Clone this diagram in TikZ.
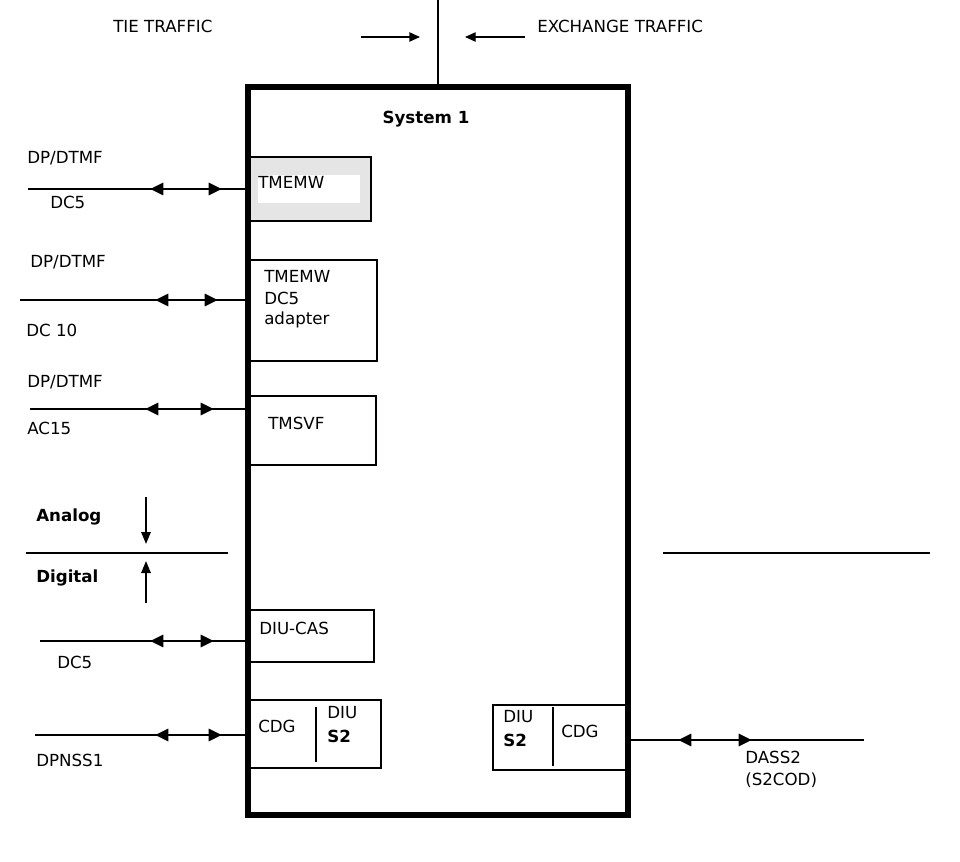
\documentclass[tikz,border=0pt]{standalone}
\usepackage{fontspec}
\setmainfont{DejaVu Sans}
\usetikzlibrary{arrows.meta}

\tikzset{
  lbl/.style={anchor=west,inner sep=0pt,font=\fontsize{12.5}{14}\selectfont},
  blbl/.style={lbl,font=\fontsize{12.5}{14}\selectfont\bfseries},
  link/.style={line width=1pt},
  dbl/.style={line width=2.2pt,{Triangle[length=10pt,width=9pt]}-{Triangle[length=10pt,width=9pt]}},
  card/.style={line width=1.3pt}
}

\begin{document}
\begin{tikzpicture}[x=0.75pt,y=-0.75pt]
  \useasboundingbox (0,0) rectangle (960,862);

  % system frame and traffic feed
  \draw[line width=4pt] (248,87) rectangle (628,815);
  \coordinate (feed) at (438,0);
  \draw[link] (feed) -- (438,87);
  \node[lbl] (tie) at (113,26) {TIE TRAFFIC};
  \node[lbl] (exch) at (537,26) {EXCHANGE TRAFFIC};
  \draw[link,-{Triangle[length=8pt,width=7pt]}] (361,37) -- (420,37);
  \draw[link,-{Triangle[length=8pt,width=7pt]}] (525,37) -- (465,37);
  \node[blbl,anchor=center] (sys) at (426,119) {System 1};

  % cards
  \draw[card,fill=gray!20] (250,157) rectangle (371,221);
  \fill[white] (258,175) rectangle (360,203);
  \node[lbl] (tmemw) at (258,182) {TMEMW};
  \draw[card] (250,260) -| (377,361) -- (250,361);
  \node[lbl] (adapt) at (264,276) {TMEMW};
  \node[lbl] at (264,298) {DC5};
  \node[lbl] at (264,320) {adapter};
  \draw[card] (250,396) -| (376,465) -- (250,465);
  \node[lbl] (tmsvf) at (268,423) {TMSVF};
  \draw[card] (250,610) -| (374,662) -- (250,662);
  \node[lbl] (diucas) at (259,628) {DIU-CAS};
  \draw[card] (250,700) -| (381,768) -- (250,768);
  \draw[card] (316,707) -- (316,762);
  \node[lbl] (cdgl) at (258,726) {CDG};
  \node[lbl] (diul) at (327,713) {DIU};
  \node[blbl] at (327,736) {S2};
  \draw[card] (628,705) -| (493,770) -- (628,770);
  \draw[card] (553,707) -- (553,766);
  \node[lbl] (diur) at (503,717) {DIU};
  \node[blbl] at (503,740) {S2};
  \node[lbl] (cdgr) at (561,731) {CDG};

  % trunk lines
  \foreach \xa/\y/\xb/\xc in {28/189/150/222, 20/300/155/218, 30/409/145/214,
                             40/641/150/214, 35/735/155/222}{
    \draw[link] (\xa,\y) -- (248,\y);
    \draw[dbl] (\xb,\y) -- (\xc,\y);
  }
  \draw[link] (628,740) -- (864,740);
  \draw[dbl] (678,740) -- (752,740);

  \node[lbl] (l1) at (27,158) {DP/DTMF};
  \node[lbl] at (50,202) {DC5};
  \node[lbl] (l2) at (30,262) {DP/DTMF};
  \node[lbl] at (26,330) {DC 10};
  \node[lbl] (l3) at (27,382) {DP/DTMF};
  \node[lbl] at (27,428) {AC15};
  \node[lbl] (l4) at (57,662) {DC5};
  \node[lbl] (l5) at (36,760) {DPNSS1};
  \node[lbl] (r1) at (745,757) {DASS2};
  \node[lbl] at (745,780) {(S2COD)};

  % analog / digital boundary
  \node[blbl] (ana) at (36,517) {Analog};
  \node[blbl] (dig) at (36,578) {Digital};
  \draw[link] (26,553) -- (228,553);
  \draw[link] (663,553) -- (930,553);
  \draw[line width=1.5pt,-{Triangle[length=9pt,width=7pt]}] (146,497) -- (146,544);
  \draw[line width=1.5pt,-{Triangle[length=9pt,width=7pt]}] (146,603) -- (146,561);
\end{tikzpicture}
\end{document}
